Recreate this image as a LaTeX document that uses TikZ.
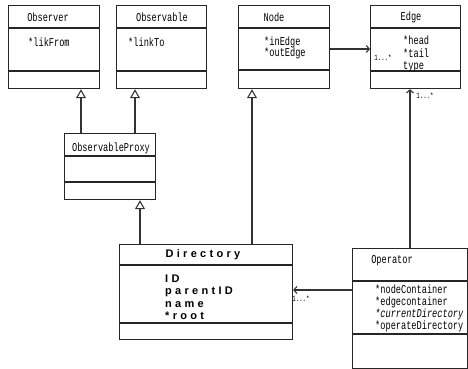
\documentclass[tikz,border=0pt]{standalone}
\usepackage{fontspec}
\setmainfont{Liberation Mono}
\newfontfamily\umlfont[FakeStretch=0.72]{Liberation Mono}
\newfontfamily\dirfont[LetterSpace=30]{Liberation Sans}
\usetikzlibrary{arrows.meta}

\tikzset{
  classbox/.style={draw=black!85, line width=1.2pt, rectangle, anchor=north west, inner sep=0pt},
  sepline/.style={draw=black!85, line width=1.2pt},
  gen/.style={draw=black!80, line width=1.1pt, -{Triangle[open,length=9pt,width=10pt]}},
  assoc/.style={draw=black!80, line width=1.1pt, -{Straight Barb[length=3pt,width=7pt]}},
  clsname/.style={font=\umlfont\fontsize{12}{13}\selectfont, inner sep=0pt},
  attr/.style={font=\umlfont\fontsize{12}{13}\selectfont, anchor=west, inner sep=0pt, text height=8pt, text depth=1pt},
  dirtext/.style={font=\dirfont\bfseries\fontsize{11}{12}\selectfont, inner sep=0pt, text height=8pt, text depth=1pt},
  mult/.style={font=\umlfont\fontsize{8}{9}\selectfont, inner sep=0pt},
}

\begin{document}
\begin{tikzpicture}[x=1pt, y=-1pt]
  \useasboundingbox (0,0) rectangle (468,369);

  % class boxes
  \node[classbox, minimum width=91pt, minimum height=83pt] (obsr) at (8,5) {};
  \node[classbox, minimum width=90pt, minimum height=83pt] (obsv) at (116,5) {};
  \node[classbox, minimum width=91pt, minimum height=83pt] (nodecls) at (238,5) {};
  \node[classbox, minimum width=90pt, minimum height=83pt] (edge) at (370,5) {};
  \node[classbox, minimum width=91pt, minimum height=66pt] (proxy) at (64,133) {};
  \node[classbox, minimum width=173pt, minimum height=95pt] (dir) at (119,244) {};
  \node[classbox, minimum width=115pt, minimum height=120pt] (oper) at (352,248) {};

  % compartments
  \foreach \c/\a/\b in {obsr/23/66, obsv/23/66, nodecls/23/65, edge/23/66, proxy/23/49, dir/21/79, oper/33/86}
  {
    \draw[sepline] ([yshift=-\a]\c.north west) -- ([yshift=-\a]\c.north east);
    \draw[sepline] ([yshift=-\b]\c.north west) -- ([yshift=-\b]\c.north east);
  }

  % names
  \node[clsname] (obsr-t) at (48,17) {Observer};
  \node[clsname] (obsv-t) at (162,17) {Observable};
  \node[clsname] (nodecls-t) at (274,17) {Node};
  \node[clsname] (edge-t) at (411,17) {Edge};
  \node[clsname] (proxy-t) at (111,148) {ObservableProxy};
  \node[dirtext] (dir-t) at (203,254) {Directory};
  \node[clsname] (oper-t) at (392,261) {Operator};

  % attributes
  \node[attr] (obsr-a) at (28,43) {*likFrom};
  \node[attr] (obsv-a) at (128,43) {*linkTo};
  \node[attr] (nodecls-a1) at (264,42) {*inEdge};
  \node[attr] (nodecls-a2) at (264,53) {*outEdge};
  \foreach \t [count=\i] in {*head,*tail,type}
    \node[attr] (edge-a\i) at (403,28.5+12.5*\i) {\t};
  \foreach \t [count=\i] in {ID,parentID,name,*root}
    \node[dirtext, anchor=west] (dir-a\i) at (165,266.7+12.3*\i) {\t};
  \node[attr] (oper-a1) at (375,290) {*nodeContainer};
  \node[attr] (oper-a2) at (375,302) {*edgecontainer};
  \node[attr] (oper-a3) at (375,314) {\itshape *currentDirectory};
  \node[attr] (oper-a4) at (375,326) {*operateDirectory};

  % generalisation
  \draw[gen] ([xshift=17]proxy.north west) -- ([xshift=17]proxy.north west |- obsr.south);
  \draw[gen] ([xshift=71]proxy.north west) -- ([xshift=71]proxy.north west |- obsv.south);
  \draw[gen] ([xshift=21]dir.north west) -- ([xshift=21]dir.north west |- proxy.south);
  \draw[gen] ([xshift=133]dir.north west) -- ([xshift=133]dir.north west |- nodecls.south);

  % associations
  \draw[assoc] ([yshift=-44]nodecls.north east) -- ([yshift=-44]edge.north west);
  \node[mult] (m1) at (383,58) {1...*};
  \draw[assoc] ([xshift=58]oper.north west) -- ([xshift=58]oper.north west |- edge.south);
  \node[mult] (m2) at (425,96) {1...*};
  \draw[assoc] ([yshift=-42]oper.north west) -- ([yshift=-42]oper.north west -| dir.east);
  \node[mult] (m3) at (301,299) {1...*};
\end{tikzpicture}
\end{document}
